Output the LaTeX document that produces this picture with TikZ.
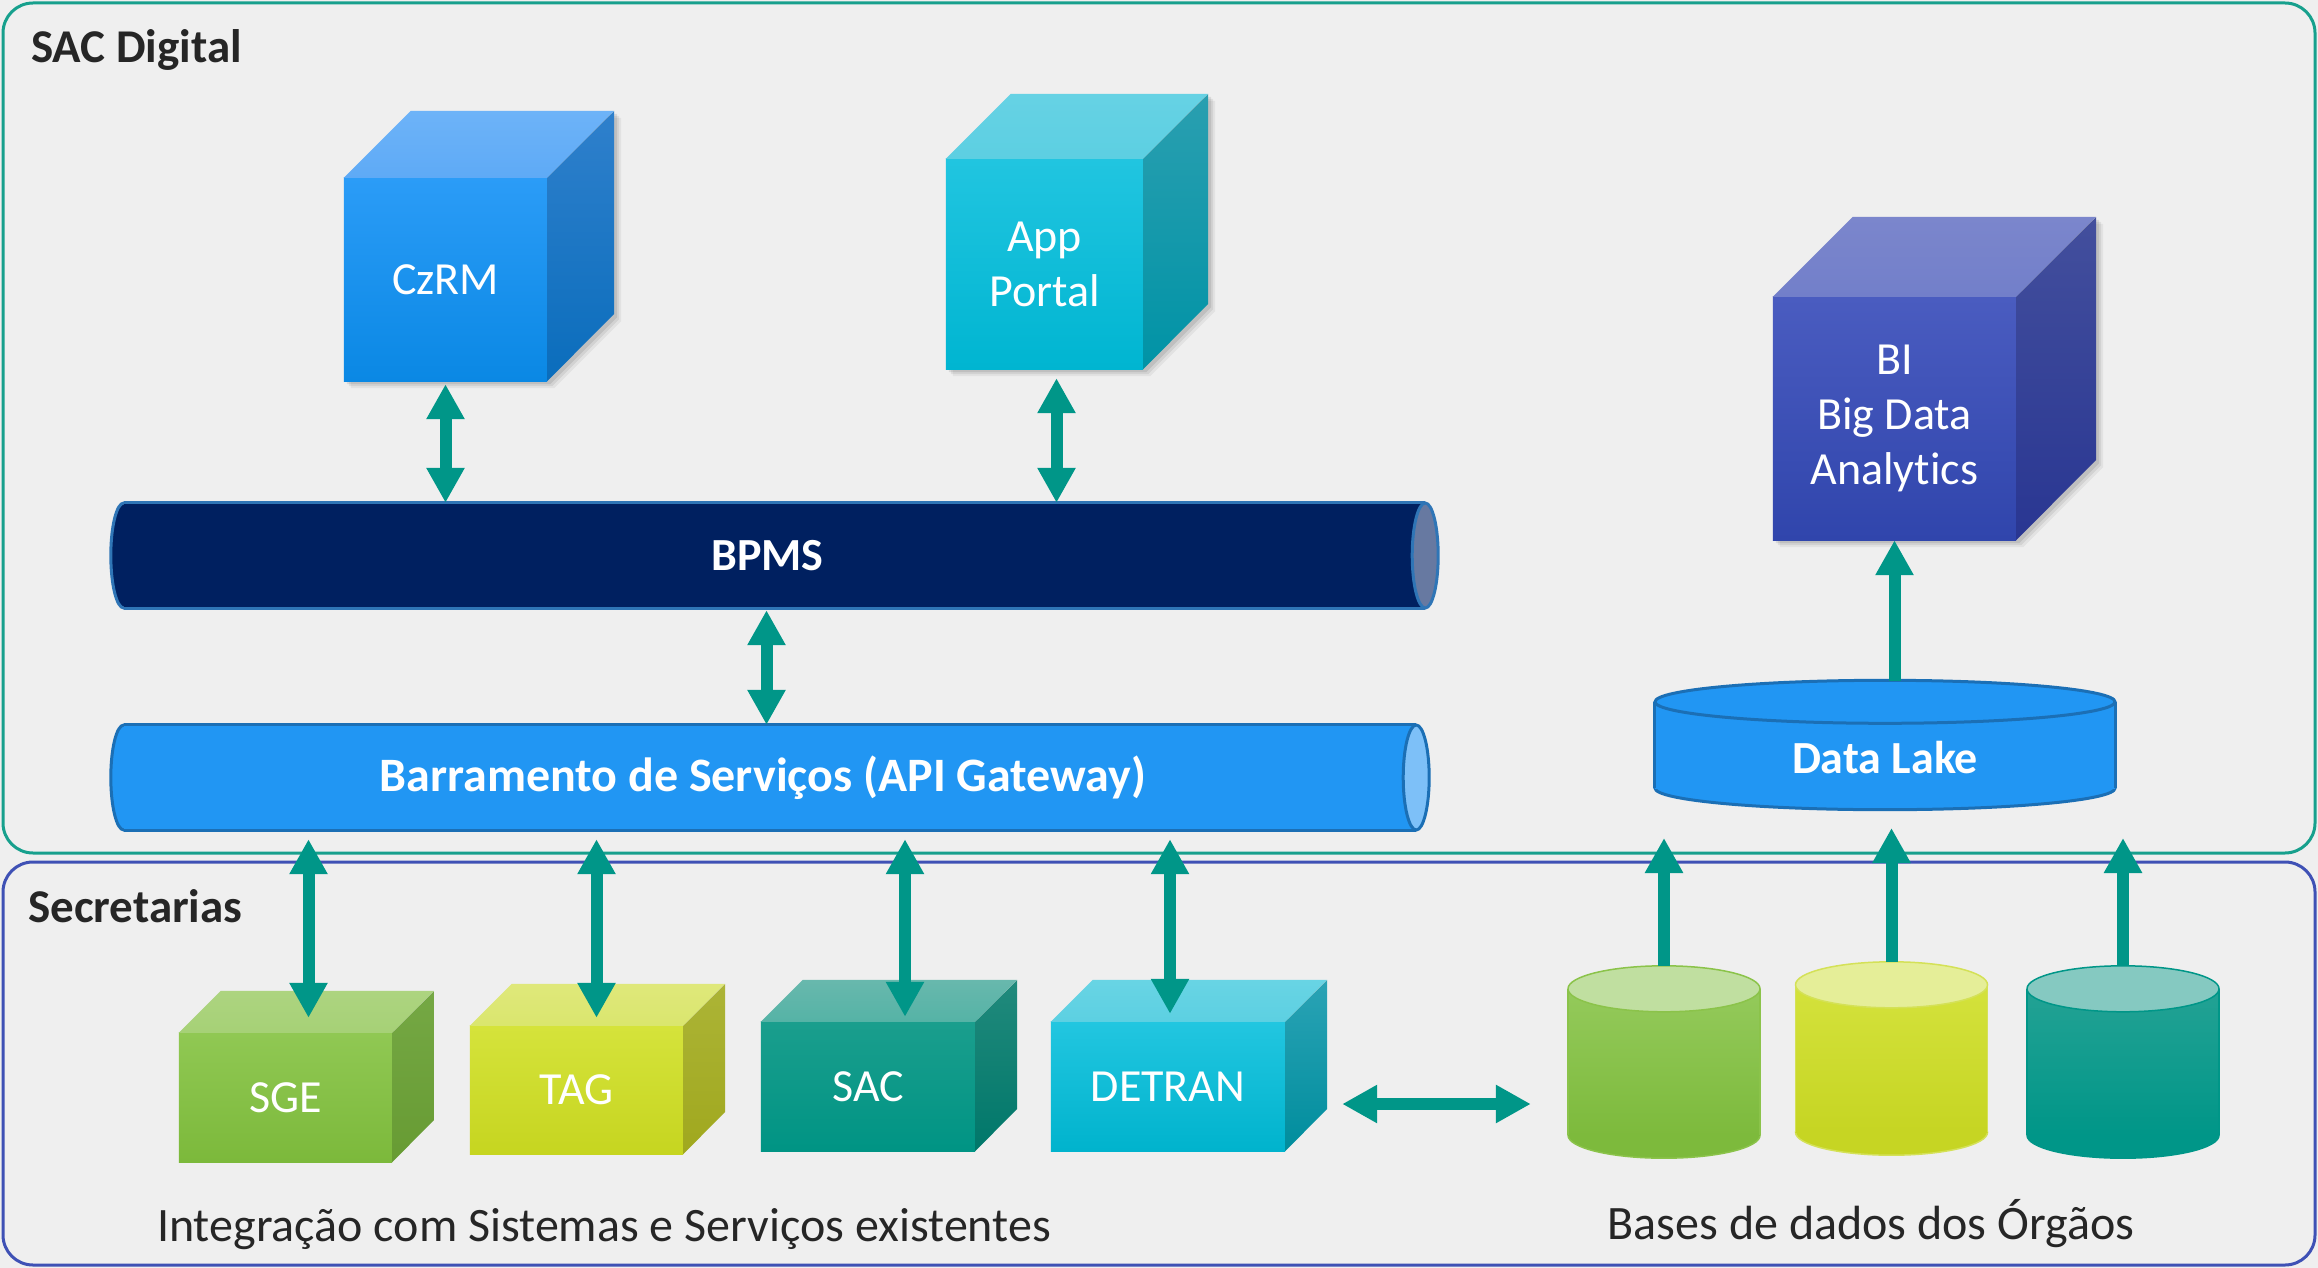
\documentclass[tikz,border=0pt]{standalone}
\usepackage{fontspec}
\setmainfont{Carlito}[Ligatures=NoCommon]
\usetikzlibrary{arrows.meta,calc}
\pgfdeclarelayer{frames}
\pgfdeclarelayer{shadows}
\pgfdeclarelayer{shapes}
\pgfsetlayers{frames,shadows,shapes,main}

\definecolor{bgc}{HTML}{EFEFEF}
\definecolor{sacline}{HTML}{17A08D}
\definecolor{secline}{HTML}{3F51B5}
\definecolor{txtc}{HTML}{262626}
\definecolor{arrc}{HTML}{009688}
% cubes
\definecolor{czFT}{HTML}{2B9CF7}\definecolor{czFB}{HTML}{0A88E4}
\definecolor{czTT}{HTML}{6DB3F8}\definecolor{czTB}{HTML}{5EAAF6}
\definecolor{czRT}{HTML}{2F80CC}\definecolor{czRB}{HTML}{0A6DBC}
\definecolor{apFT}{HTML}{21C5E0}\definecolor{apFB}{HTML}{00B5D1}
\definecolor{apTT}{HTML}{66D2E4}\definecolor{apTB}{HTML}{5CCFE2}
\definecolor{apRT}{HTML}{2A9FB0}\definecolor{apRB}{HTML}{0093A6}
\definecolor{biFT}{HTML}{4A5CC0}\definecolor{biFB}{HTML}{3045AC}
\definecolor{biTT}{HTML}{7B86CC}\definecolor{biTB}{HTML}{727FCA}
\definecolor{biRT}{HTML}{434F9D}\definecolor{biRB}{HTML}{293692}
\definecolor{sgFT}{HTML}{90C853}\definecolor{sgFB}{HTML}{7CB93B}
\definecolor{sgTT}{HTML}{ADD480}\definecolor{sgTB}{HTML}{A6D176}
\definecolor{sgRT}{HTML}{75A844}\definecolor{sgRB}{HTML}{679B33}
\definecolor{tgFT}{HTML}{D5E33B}\definecolor{tgFB}{HTML}{C6D520}
\definecolor{tgTT}{HTML}{DFE87A}\definecolor{tgTB}{HTML}{DAE66E}
\definecolor{tgRT}{HTML}{ACB436}\definecolor{tgRB}{HTML}{A0A81E}
\definecolor{scFT}{HTML}{1A9E8D}\definecolor{scFB}{HTML}{009484}
\definecolor{scTT}{HTML}{68B8AD}\definecolor{scTB}{HTML}{55B3A6}
\definecolor{scRT}{HTML}{218A7C}\definecolor{scRB}{HTML}{00776A}
\definecolor{dtFT}{HTML}{22C6E0}\definecolor{dtFB}{HTML}{00B3CD}
\definecolor{dtTT}{HTML}{68D4E4}\definecolor{dtTB}{HTML}{5CD0E2}
\definecolor{dtRT}{HTML}{2AA3B5}\definecolor{dtRB}{HTML}{008D9D}
% horizontal cylinders
\definecolor{bpB}{HTML}{002060}\definecolor{bpL}{HTML}{2F75B6}\definecolor{bpC}{HTML}{6779A1}
\definecolor{brB}{HTML}{2196F3}\definecolor{brL}{HTML}{1B6FB5}\definecolor{brC}{HTML}{7DC0F8}
% vertical cylinders
\definecolor{dlT}{HTML}{2196F3}\definecolor{dlB}{HTML}{2196F3}\definecolor{dlC}{HTML}{2196F3}\definecolor{dlL}{HTML}{1B6FB5}
\definecolor{grT}{HTML}{94CA5B}\definecolor{grB}{HTML}{7DBA3C}\definecolor{grC}{HTML}{C0DFA0}\definecolor{grL}{HTML}{8BC34A}
\definecolor{yeT}{HTML}{D4E23C}\definecolor{yeB}{HTML}{C6D523}\definecolor{yeC}{HTML}{E5EE98}\definecolor{yeL}{HTML}{D4E157}
\definecolor{teT}{HTML}{23A294}\definecolor{teB}{HTML}{009688}\definecolor{teC}{HTML}{85C9C1}\definecolor{teL}{HTML}{009688}

\tikzset{
  Tp/.tip={Triangle[width=36pt,length=35pt]},
  conn/.style={draw=arrc, line width=12pt},
  panel/.style={fill=bgc, line width=3pt, rounded corners=30pt, inner sep=0pt},
  titletxt/.style={text=txtc, inner sep=0pt, font=\fontsize{47}{56}\selectfont\bfseries},
  captxt/.style={text=txtc, inner sep=0pt, font=\fontsize{48}{56}\selectfont},
  cubefront/.style={inner sep=0pt, text=white, align=center, font=\fontsize{46}{55}\selectfont},
  hbody/.style={inner sep=0pt, text=white, font=\fontsize{46}{55}\selectfont\bfseries},
  vbody/.style={inner sep=0pt},
  boldlbl/.style={inner sep=0pt, text=white, font=\fontsize{46}{55}\selectfont\bfseries},
}

% name, x1, y1, x2, y2, depth, colour prefix, label
\newcommand{\drawcube}[8]{%
  \node[cubefront, minimum width={(#4)-(#2)}, minimum height={(#5)-(#3)}] (#1) at ({((#2)+(#4))/2},{((#3)+(#5))/2}) {#8};
  \begin{pgfonlayer}{shapes}
    \shade[top color=#7FT, bottom color=#7FB] (#1.north west) rectangle (#1.south east);
    \shade[top color=#7TT, bottom color=#7TB] (#1.north west) -- ++(#6,-#6) -- ++({(#4)-(#2)},0) -- (#1.north east) -- cycle;
    \shade[top color=#7RT, bottom color=#7RB] (#1.north east) -- ++(#6,-#6) -- ++(0,{(#5)-(#3)}) -- (#1.south east) -- cycle;
  \end{pgfonlayer}}
% soft shadow of a cube
\newcommand{\cubeshadow}[2]{%
  \begin{pgfonlayer}{shadows}
    \foreach \s/\o in {7/0.05,5/0.07,3/0.09}{
    \fill[black, opacity=\o] ($(#1.north west)+(\s,\s)$) -- ++(#2,-#2) -- ($(#1.north east)+(#2,-#2)+(\s,\s)$) -- ($(#1.south east)+(#2,-#2)+(\s,\s)$) -- ($(#1.south east)+(\s,\s)$) -- ($(#1.south west)+(\s,\s)$) -- cycle;}
  \end{pgfonlayer}}
% name, xl, xr, yt, yb, rx, prefix, label
\newcommand{\hcyl}[8]{%
  \node[hbody, minimum width={(#3)-(#2)}, minimum height={(#5)-(#4)}] (#1) at ({((#2)+(#3))/2},{((#4)+(#5))/2}) {#8};
  \begin{pgfonlayer}{shapes}
    \filldraw[fill=#7B, draw=#7L, line width=3pt] (#1.west) ellipse[x radius=#6pt, y radius={((#5)-(#4))/2*1pt}];
    \fill[#7B] (#1.north west) rectangle (#1.south east);
    \draw[#7L, line width=3pt] (#1.north west) -- (#1.north east) (#1.south west) -- (#1.south east);
    \filldraw[fill=#7C, draw=#7L, line width=3pt] (#1.east) ellipse[x radius=#6pt, y radius={((#5)-(#4))/2*1pt}];
  \end{pgfonlayer}}
% name, cx, rx, yt, yb, ry, prefix, line width
\newcommand{\vcyl}[8]{%
  \node[vbody, minimum width={2*(#3)}, minimum height={(#5)-(#4)}] (#1) at (#2,{((#4)+(#5))/2}) {};
  \begin{pgfonlayer}{shapes}
    \filldraw[fill=#7B, draw=#7L, line width=#8] (#1.south) ellipse[x radius=#3pt, y radius=#6pt];
    \shade[top color=#7T, bottom color=#7B] (#1.north west) rectangle (#1.south east);
    \draw[#7L, line width=#8] (#1.north west) -- (#1.south west) (#1.north east) -- (#1.south east);
    \filldraw[fill=#7C, draw=#7L, line width=#8] (#1.north) ellipse[x radius=#3pt, y radius=#6pt];
  \end{pgfonlayer}}

\begin{document}
\begin{tikzpicture}[x=1pt,y=-1pt]
\useasboundingbox (0,0) rectangle (2318,1268);
\begin{pgfonlayer}{frames}
  \fill[bgc] (0,0) rectangle (2318,1268);
  \node[panel, draw=sacline, minimum width=2312pt, minimum height=850pt] (sacpanel) at (1159,428) {};
  \node[panel, draw=secline, minimum width=2312pt, minimum height=403pt] (secpanel) at (1159,1063.5) {};
\end{pgfonlayer}

\node[titletxt, anchor=base west] (t1) at (31,63) {SAC Digital};
\node[titletxt, anchor=base west] (t2) at (28,922) {Secretarias};

% cubes
\drawcube{czrm}{344}{178}{547}{381}{67}{cz}{CzRM}
\cubeshadow{czrm}{67}
\drawcube{app}{946}{159}{1143}{369}{65}{ap}{App\\Portal}
\cubeshadow{app}{65}
\drawcube{bi}{1773}{297}{2016}{540}{80}{bi}{BI\\Big Data\\Analytics}
\cubeshadow{bi}{80}
\drawcube{sge}{179}{1033}{392}{1162}{42}{sg}{SGE}
\drawcube{tag}{470}{1026}{683}{1154}{42}{tg}{TAG}
\drawcube{sac}{761}{1022}{975}{1151}{42}{sc}{SAC}
\drawcube{det}{1051}{1022}{1285}{1151}{42}{dt}{DETRAN}

% buses
\hcyl{bpms}{124}{1425}{503}{608}{13}{bp}{BPMS\hspace*{14pt}}
\hcyl{bar}{124}{1416}{725}{830}{13}{br}{\fontsize{48}{55}\selectfont Barramento de Serviços (API Gateway)\hspace*{14pt}}

% data lake and databases
\vcyl{dl}{1885}{230}{702}{788}{21.5}{dl}{3pt}
\node[boldlbl] (dllbl) at (1885,758) {Data Lake};
\vcyl{db1}{1664}{96}{989}{1135}{23}{gr}{1.5pt}
\vcyl{db2}{1891.5}{96}{985}{1132}{23}{ye}{1.5pt}
\vcyl{db3}{2123}{96}{989}{1135}{23}{te}{1.5pt}

% captions
\node[captxt, anchor=base] (cap1) at (604,1241) {Integração com Sistemas e Serviços existentes};
\node[captxt, anchor=base] (cap2) at (1871,1239) {Bases de dados dos Órgãos};

% connectors
\coordinate (tipline) at (0,838);
\draw[conn, Tp-Tp] ($(czrm.south)+(0,3)$) -- (czrm.south |- bpms.north);
\coordinate (appA) at ($(app.south)+(12,9)$);
\draw[conn, Tp-Tp] (appA) -- (appA |- bpms.north);
\coordinate (bpA) at ($(bpms.south)+(-8,2)$);
\draw[conn, Tp-Tp] (bpA) -- (bpA |- bar.north);

\coordinate (sgeT) at ($(sge.north)+(23,-15)$);
\draw[conn, Tp-Tp] ($(sgeT |- bar.south)+(0,9)$) -- (sgeT);
\coordinate (tagT) at ($(tag.north)+(20,-8)$);
\draw[conn, Tp-Tp] ($(tagT |- bar.south)+(0,9)$) -- (tagT);
\coordinate (sacT) at ($(sac.north)+(37,-5)$);
\draw[conn, Tp-Tp] ($(sacT |- bar.south)+(0,9)$) -- (sacT);
\coordinate (detT) at ($(det.north)+(2,-8)$);
\draw[conn, Tp-Tp] ($(detT |- bar.south)+(0,9)$) -- (detT);

\draw[conn, Tp-Tp] ($(det.east)+(57,17.5)$) -- ($(db1.west)+(-37,42)$);

\draw[conn, -Tp] ($(db1.north)+(0,-23)$) -- (db1.north |- tipline);
\draw[conn, -Tp] ($(db2.north)+(0,-23)$) -- ($(db2.north |- tipline)+(0,-10)$);
\draw[conn, -Tp] ($(db3.north)+(0,-23)$) -- (db3.north |- tipline);
\draw[conn, -Tp] ($(bi.south |- dl.north)+(0,-21)$) -- (bi.south);
\end{tikzpicture}
\end{document}
